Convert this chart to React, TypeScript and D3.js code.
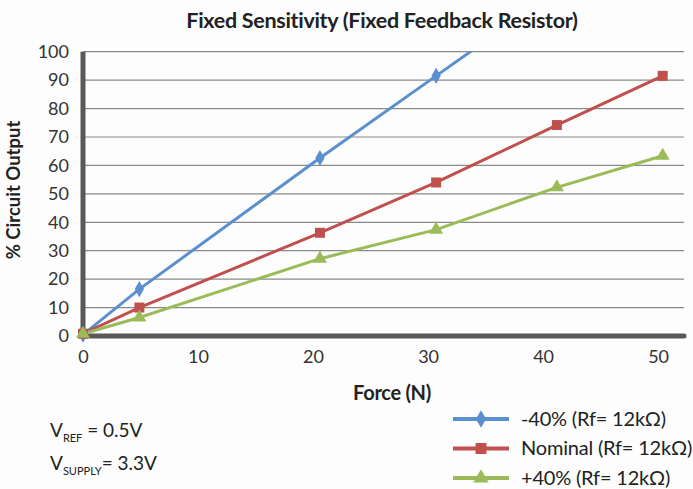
import * as d3 from "d3";
import { useEffect, useRef } from "react";

// values
const forces = [0, 4.9, 20.6, 30.7, 41.2, 50.4];
const lowSeries = [0.5, 16.5, 62.6, 91.5, 121.5];
const nominalSeries = [0.8, 10, 36.3, 54, 74.2, 91.5];
const highSeries = [0.8, 6.5, 27.2, 37.4, 52.3, 63.4];
const xTicks = [0, 10, 20, 30, 40, 50];
const yTicks = [0, 10, 20, 30, 40, 50, 60, 70, 80, 90, 100];
const seriesNames = ["-40% (Rf= 12kΩ)", "Nominal (Rf= 12kΩ)", "+40% (Rf= 12kΩ)"];
const seriesColors = ["#5b8fcf", "#c0504d", "#9bbb59"];
const seriesMarkers = ["diamond", "square", "triangle"];

const width = 693;
const height = 489;
const marginLeft = 83;
const marginTop = 51.7;
const plotRight = 684;
const plotBottom = 336;

export default function App() {
  const axisBottomRef = useRef<SVGGElement>(null);
  const axisLeftRef = useRef<SVGGElement>(null);

  const scaleX = d3.scaleLinear().domain([0, 52.25]).range([marginLeft, plotRight]);
  const scaleY = d3.scaleLinear().domain([0, 100]).range([plotBottom, marginTop]);

  const allSeries = [lowSeries, nominalSeries, highSeries];

  const line = d3
    .line<number>()
    .x((_, i) => scaleX(forces[i]))
    .y((d) => scaleY(d));

  const symbolFor = (kind: string, k = 1) => {
    if (kind === "diamond") return d3.symbol(d3.symbolDiamond, 75 * k)();
    if (kind === "square") return d3.symbol(d3.symbolSquare, 100 * k)();
    return d3.symbol(d3.symbolTriangle, 85 * k)();
  };

  useEffect(() => {
    if (axisBottomRef.current) {
      const g = d3.select(axisBottomRef.current);
      g.call(d3.axisBottom(scaleX).tickValues(xTicks).tickSize(0).tickPadding(14));
      g.select(".domain").remove();
      g.selectAll("text")
        .attr("font-family", "Lato")
        .attr("font-size", 18)
        .attr("fill", "#333");
    }
    if (axisLeftRef.current) {
      const g = d3.select(axisLeftRef.current);
      g.call(d3.axisLeft(scaleY).tickValues(yTicks).tickSize(0).tickPadding(10));
      g.select(".domain").remove();
      g.selectAll("text")
        .attr("font-family", "Lato")
        .attr("font-size", 18)
        .attr("fill", "#333");
    }
  }, []);

  return (
    <svg width={width} height={height} style={{ position: "absolute", left: 0, top: 0 }}>
      <rect width={width} height={height} fill="#fdfdfd" />
      <defs>
        <clipPath id="plot-clip">
          <rect x={marginLeft} y={marginTop} width={plotRight - marginLeft} height={plotBottom - marginTop + 10} />
        </clipPath>
      </defs>

      <text x={382} y={28} textAnchor="middle" fontFamily="Lato" fontWeight="bold" fontSize={21.5} fill="#222" letterSpacing={-0.3}>
        Fixed Sensitivity (Fixed Feedback Resistor)
      </text>

      {yTicks.slice(1).map((t) => (
        <line key={t} x1={marginLeft} x2={plotRight} y1={scaleY(t)} y2={scaleY(t)} stroke="#8a8a8a" strokeWidth={1.2} />
      ))}

      <g ref={axisBottomRef} transform={`translate(0, ${plotBottom})`} />
      <g ref={axisLeftRef} transform={`translate(${marginLeft - 4}, 0)`} />

      <line x1={marginLeft} x2={marginLeft} y1={marginTop} y2={plotBottom + 2} stroke="#595959" strokeWidth={5} />
      <line x1={marginLeft - 2} x2={plotRight} y1={plotBottom} y2={plotBottom} stroke="#595959" strokeWidth={5} strokeLinecap="round" />

      <g clipPath="url(#plot-clip)">
        {allSeries.map((s, i) => (
          <path key={i} d={line(s) || ""} fill="none" stroke={seriesColors[i]} strokeWidth={3} />
        ))}
      </g>
      {allSeries.map((s, i) => (
        <g key={i} fill={seriesColors[i]}>
          {s.map((v, j) =>
            v <= 100 ? (
              <path key={j} d={symbolFor(seriesMarkers[i]) || ""} transform={`translate(${scaleX(forces[j])}, ${scaleY(v)})`} />
            ) : null
          )}
        </g>
      ))}

      <text
        transform={`translate(20, 190) rotate(-90)`}
        textAnchor="middle"
        fontFamily="Lato"
        fontWeight="bold"
        fontSize={18.5}
        fill="#222"
      >
        % Circuit Output
      </text>
      <text x={392} y={400} textAnchor="middle" fontFamily="Lato" fontWeight="bold" fontSize={20} fill="#222" letterSpacing={-0.3}>
        Force (N)
      </text>

      <text x={50} y={437} fontFamily="Lato" fontSize={19} fill="#222">
        V<tspan fontSize={11} dy={5}>REF</tspan>
        <tspan dy={-5}> = 0.5V</tspan>
      </text>
      <text x={50} y={470} fontFamily="Lato" fontSize={19} fill="#222">
        V<tspan fontSize={11} dy={5}>SUPPLY</tspan>
        <tspan dy={-5}>= 3.3V</tspan>
      </text>

      {seriesNames.map((name, i) => {
        const y = 419 + i * 29.5;
        return (
          <g key={name}>
            <line x1={453} x2={509} y1={y} y2={y} stroke={seriesColors[i]} strokeWidth={4} />
            <path d={symbolFor(seriesMarkers[i], 1.2) || ""} transform={`translate(481, ${y})`} fill={seriesColors[i]} />
            <text x={521} y={y + 6.5} fontFamily="Lato" fontSize={20} fill="#222" letterSpacing={-0.2}>
              {name}
            </text>
          </g>
        );
      })}
    </svg>
  );
}
